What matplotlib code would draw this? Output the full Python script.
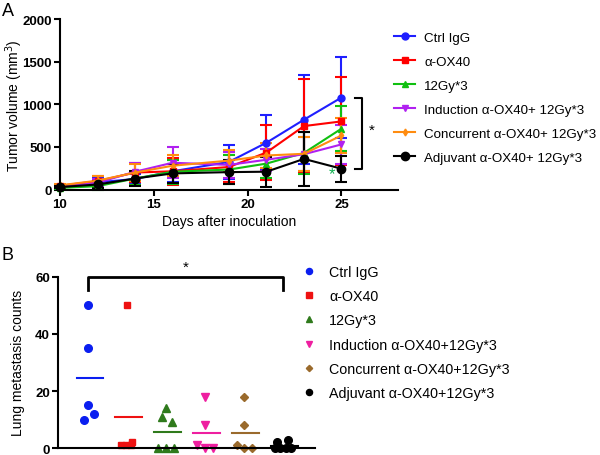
import matplotlib
matplotlib.use("Agg")
import matplotlib.pyplot as plt
from matplotlib.lines import Line2D

plt.rcParams['font.family'] = ['Liberation Sans', 'DejaVu Sans']

# Panel A data: tumour volume by day
days = [10, 12, 14, 16, 19, 21, 23, 25]
groups_a = ['Ctrl IgG', 'α-OX40', '12Gy*3', 'Induction α-OX40+ 12Gy*3',
            'Concurrent α-OX40+ 12Gy*3', 'Adjuvant α-OX40+ 12Gy*3']
vol_ctrl = [30, 85, 125, 215, 325, 550, 820, 1080]
vol_ox40 = [45, 100, 200, 215, 265, 435, 745, 800]
vol_rt = [20, 40, 130, 210, 235, 305, 430, 715]
vol_ind = [30, 80, 210, 315, 290, 350, 415, 530]
vol_con = [50, 105, 200, 280, 340, 400, 420, 635]
vol_adj = [30, 60, 130, 190, 205, 210, 360, 245]
err_ctrl = [10, 50, 60, 130, 195, 320, 520, 480]
err_ox40 = [10, 60, 110, 160, 180, 320, 550, 515]
err_rt = [8, 40, 80, 140, 170, 170, 250, 260]
err_ind = [10, 50, 100, 180, 150, 130, 200, 230]
err_con = [10, 55, 100, 120, 130, 150, 200, 200]
err_adj = [10, 40, 90, 110, 140, 175, 315, 150]

# Panel B data: lung metastasis counts
groups_b = ['Ctrl IgG', 'α-OX40', '12Gy*3', 'Induction α-OX40+12Gy*3',
            'Concurrent α-OX40+12Gy*3', 'Adjuvant α-OX40+12Gy*3']
met_ctrl = [50, 35, 15, 12, 10]
met_ox40 = [50, 1, 1, 1, 2]
met_rt = [14, 11, 9, 0, 0, 0]
met_ind = [18, 8, 1, 0, 0]
met_con = [18, 8, 1, 0, 0]
met_adj = [2, 3, 0, 0, 0, 0]
# horizontal scatter offsets (in group units) so points don't overlap
off_ctrl = [0, 0, 0, 0.15, -0.1]
off_ox40 = [0, -0.16, -0.03, 0.1, 0.13]
off_rt = [0, -0.11, 0.15, -0.2, 0, 0.2]
off_ind = [0, 0, -0.2, 0, 0.2]
off_con = [0, 0, -0.19, 0, 0.2]
off_adj = [-0.16, 0.13, -0.2, -0.07, 0.07, 0.2]

fig = plt.figure(figsize=(6, 4.56), dpi=100)

# ---------------- Panel A ----------------
ax = fig.add_axes([0.1, 0.582, 0.563, 0.374])
series_a = [
    (vol_ctrl, err_ctrl, '#1f1fff', 'o', 5),
    (vol_ox40, err_ox40, '#ff0000', 's', 4.5),
    (vol_rt, err_rt, '#10c010', '^', 5),
    (vol_ind, err_ind, '#b020f0', 'v', 5),
    (vol_con, err_con, '#ff8c10', 'd', 3.5),
    (vol_adj, err_adj, '#000000', 'o', 6),
]
handles = []
for (v, e, c, m, ms), name in zip(series_a, groups_a):
    ax.errorbar(days, v, yerr=e, color=c, marker=m, markersize=ms, lw=1.5,
                elinewidth=1.5, capsize=4, capthick=1.5, clip_on=False)
    handles.append(Line2D([0], [0], color=c, marker=m, markersize=ms, lw=1.5))

ax.set_xlim(10, 28)
ax.set_ylim(0, 2000)
ax.set_xticks([10, 15, 20, 25])
ax.set_yticks([0, 500, 1000, 1500, 2000])
for s in ['top', 'right']:
    ax.spines[s].set_visible(False)
for s in ['left', 'bottom']:
    ax.spines[s].set_linewidth(1.5)
ax.tick_params(width=1.5, length=4, labelsize=9.5, pad=2)
for lab in ax.get_xticklabels() + ax.get_yticklabels():
    lab.set_fontweight('bold')
ax.set_xlabel('Days after inoculation', fontsize=10, labelpad=3)
ax.set_ylabel('Tumor volume (mm$^3$)', fontsize=10)
ax.yaxis.set_label_coords(-0.105, 0.5)

# significance bracket
ax.plot([25.7, 26.1, 26.1, 25.7], [vol_ctrl[-1], vol_ctrl[-1], vol_adj[-1], vol_adj[-1]],
        color='black', lw=1.5, clip_on=False)
ax.text(26.6, 700, '*', fontsize=11, ha='center', va='center')
ax.text(24.5, 190, '*', fontsize=12, color='#10b050', ha='center', va='center')

fig.legend(handles, groups_a, loc='upper left', bbox_to_anchor=(0.657, 0.928), frameon=False,
           fontsize=9.6, handlelength=1.55, labelspacing=0.87, handletextpad=0.7,
           borderaxespad=0, borderpad=0)

fig.text(0.003, 0.975, 'A', fontsize=13, va='center')

# ---------------- Panel B ----------------
bx = fig.add_axes([0.097, 0.015, 0.428, 0.376])
series_b = [
    (met_ctrl, off_ctrl, '#0a1ef0', 'o', 5.5),
    (met_ox40, off_ox40, '#ee1111', 's', 5),
    (met_rt, off_rt, '#2f7a1c', '^', 5.5),
    (met_ind, off_ind, '#ee1fa0', 'v', 5.5),
    (met_con, off_con, '#9a6a2c', 'D', 4),
    (met_adj, off_adj, '#000000', 'o', 5.5),
]
handles_b = []
for i, (vals, offs, c, m, ms) in enumerate(series_b):
    xpos = [i + 1 + o for o in offs]
    bx.plot(xpos, vals, ls='none', marker=m, markersize=ms, color=c, clip_on=False)
    mean = sum(vals) / len(vals)
    bx.plot([i + 1 - 0.3, i + 1 + 0.38], [mean, mean], color=c, lw=1.5)
    handles_b.append(Line2D([0], [0], ls='none', marker=m, markersize=ms * 0.8, color=c))

bx.set_xlim(0.23, 6.82)
bx.set_ylim(0, 60)
bx.set_xticks([])
bx.set_yticks([0, 20, 40, 60])
for s in ['top', 'right']:
    bx.spines[s].set_visible(False)
for s in ['left', 'bottom']:
    bx.spines[s].set_linewidth(1.5)
bx.tick_params(width=1.5, length=4, labelsize=9.5, pad=2)
for lab in bx.get_yticklabels():
    lab.set_fontweight('bold')
bx.set_ylabel('Lung metastasis counts', fontsize=10)
bx.yaxis.set_label_coords(-0.128, 0.5)

bx.plot([1, 1, 6, 6], [55.5, 60, 60, 55.5], color='black', lw=2, clip_on=False)
bx.text(3.5, 63.5, '*', fontsize=11, ha='center', va='center')

fig.legend(handles_b, groups_b, loc='upper left', bbox_to_anchor=(0.503, 0.417), frameon=False,
           fontsize=10.3, handlelength=1.0, labelspacing=0.72, handletextpad=0.9,
           borderaxespad=0, borderpad=0)

fig.text(0.003, 0.44, 'B', fontsize=13, va='center')

fig.savefig('out.png', dpi=100)
